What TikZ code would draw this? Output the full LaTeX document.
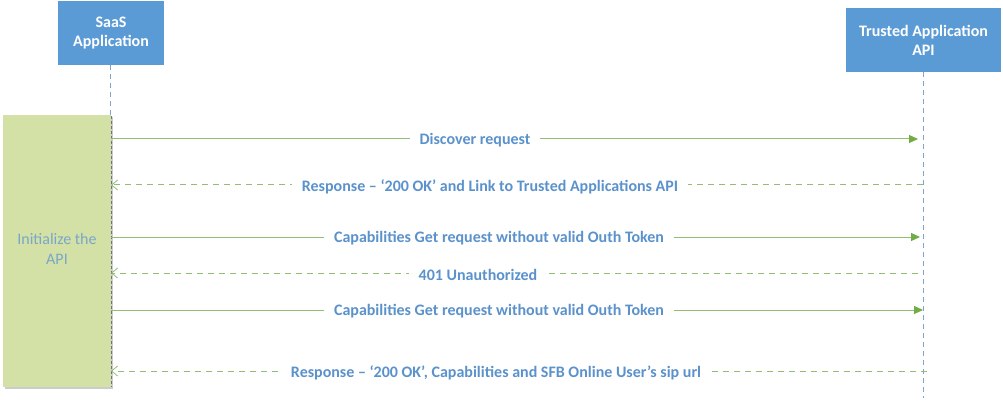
\documentclass[tikz,border=0pt]{standalone}
\usepackage{fontspec}
\setmainfont{Carlito}
\usetikzlibrary{arrows.meta,shadows}
\definecolor{hdr}{HTML}{5B9BD5}
\definecolor{lbl}{HTML}{5B92CC}
\definecolor{gline}{HTML}{93BD73}
\definecolor{ghead}{HTML}{70AD47}
\definecolor{gfill}{HTML}{D3E0A6}
\definecolor{lifec}{HTML}{7FA3CC}
\definecolor{inittxt}{HTML}{7AA7C8}
\tikzset{
  header/.style={fill=hdr, draw=none, text=white, font=\fontsize{16}{19}\selectfont\bfseries, align=center, inner sep=0pt},
  lifeline/.style={draw=lifec, dash pattern=on 5pt off 4pt, line width=0.8pt},
  msglabel/.style={fill=white, text=lbl, font=\fontsize{16}{19}\selectfont\bfseries, inner xsep=10pt, inner ysep=1pt, yshift=-1.5pt},
  callarrow/.style={draw=gline, line width=1pt, -{Triangle[length=9pt,width=8pt,fill=ghead,color=ghead]}},
  replyarrow/.style={draw=gline, line width=1pt, dash pattern=on 6pt off 5pt, -{Straight Barb[length=6pt,width=10pt,line width=0.8pt]}},
  actbox/.style={fill=gfill, draw=none, drop shadow={shadow xshift=2pt, shadow yshift=-2pt, fill=black!40, opacity=0.5}},
}
\begin{document}
\begin{tikzpicture}[x=1pt,y=-1pt]
\useasboundingbox (0,0) rectangle (1003,406);
% headers
\node[header, minimum width=106pt, minimum height=64pt] (saas) at (111,33) {SaaS\\Application};
\node[header, minimum width=155pt, minimum height=64pt] (tapi) at (923.5,40) {Trusted Application\\API};
% lifeline coordinates
\coordinate (s0) at (110,65);
\coordinate (s1) at (110,116);
\coordinate (t0) at (923,72);
\coordinate (t1) at (923,398);
% activation box
\node[actbox, minimum width=108pt, minimum height=272pt, anchor=north west, inner sep=0pt] (act) at (3,115) {};
\node[text=inittxt, font=\fontsize{16}{20}\selectfont, align=center] (inittext) at (57,249) {Initialize the\\API};
\draw[lifeline] (saas.south -| s0) -- (s1);
\draw[lifeline] (tapi.south -| t0) -- (t1);
\draw[draw=black!55, dash pattern=on 3pt off 2pt, line width=0.5pt] (111,116) -- (111,387);
% message anchors
\coordinate (a1) at (111,139); \coordinate (b1) at (918,139);
\coordinate (a2) at (111,185); \coordinate (b2) at (923,185);
\coordinate (a3) at (111,237); \coordinate (b3) at (920,237);
\coordinate (a4) at (111,273); \coordinate (b4) at (918,273);
\coordinate (a5) at (111,310); \coordinate (b5) at (923,310);
\coordinate (a6) at (111,371); \coordinate (b6) at (927,371);
% messages
\draw[callarrow] (a1) -- (b1);
\node[msglabel] (m1) at (475,139) {Discover request};
\draw[replyarrow] (b2) -- (a2);
\node[msglabel] (m2) at (490,185) {Response – ‘200 OK’ and Link to Trusted Applications API};
\draw[callarrow] (a3) -- (b3);
\node[msglabel] (m3) at (499,237) {Capabilities Get request without valid Outh Token};
\draw[replyarrow] (b4) -- (a4);
\node[msglabel] (m4) at (478,273) {401 Unauthorized};
\draw[callarrow] (a5) -- (b5);
\node[msglabel] (m5) at (499,310) {Capabilities Get request without valid Outh Token};
\draw[replyarrow] (b6) -- (a6);
\node[msglabel] (m6) at (496,371) {Response – ‘200 OK’, Capabilities and SFB Online User’s sip url};
\end{tikzpicture}
\end{document}
